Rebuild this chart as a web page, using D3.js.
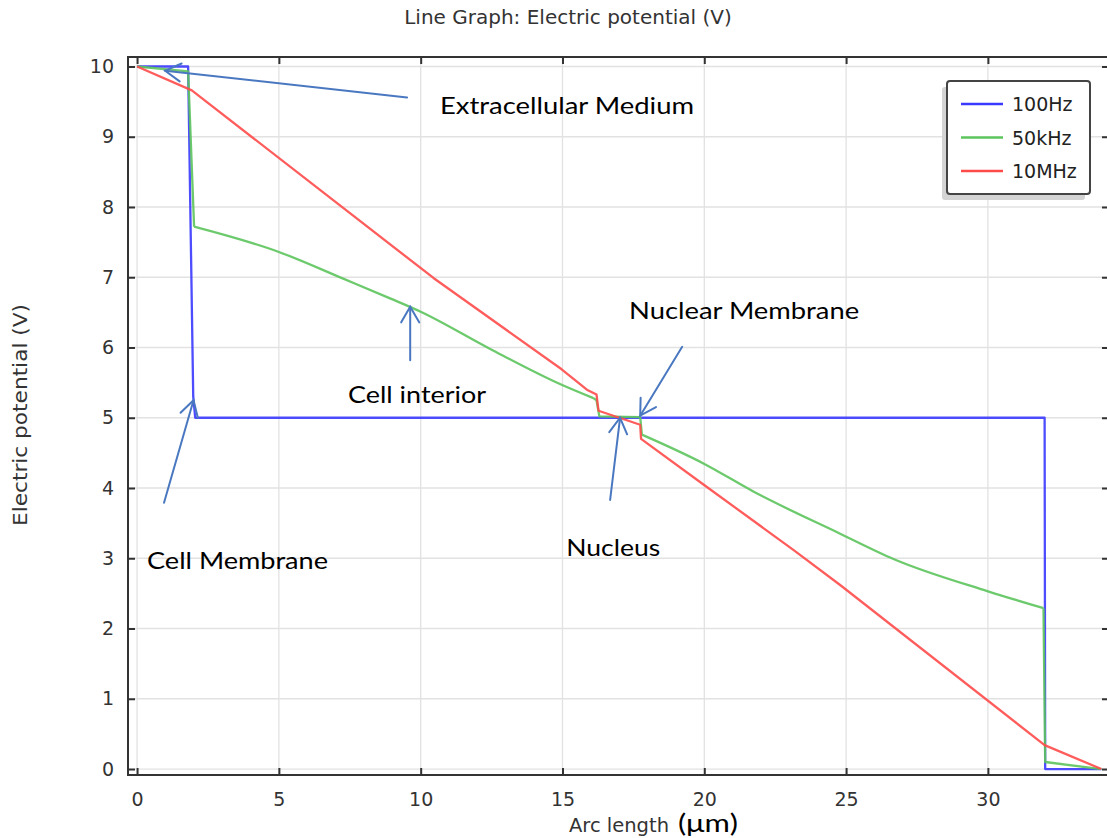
<!DOCTYPE html>
<html>
<head>
<meta charset="utf-8">
<script src="https://cdn.jsdelivr.net/npm/d3@7"></script>
<style>
  html, body { margin: 0; padding: 0; background: #fff; }
  svg { display: block; }
  .axis text { font-family: "DejaVu Sans", sans-serif; font-size: 19px; fill: #333; }
  .axis path { display: none; }
  .axis line { stroke: #333; stroke-width: 2; }
</style>
</head>
<body>
<svg id="chart" width="1107" height="838"></svg>
<script>
// Electric potential along the arc through the cell, for three frequencies
const seriesNames = ["100Hz", "50kHz", "10MHz"];
const seriesColors = ["#3a3aff", "#5cc45c", "#ff4a4a"];

const arc100Hz = [0, 1.8, 1.98, 2.05, 32.0, 32.02, 34];
const pot100Hz = [10, 10, 5.3, 5.0, 5.0, 0, 0];

const arc50kHz = [0, 1.8, 2.01, 5.0, 7.27, 8.92, 10.0, 12.45, 14.97, 16.09, 16.2, 16.3, 17.74, 17.8, 19.97, 21.73, 24.79, 26.67, 30.0, 31.96, 32.02, 34];
const pot50kHz = [10, 9.93, 7.72, 7.36, 6.98, 6.70, 6.51, 5.98, 5.47, 5.28, 5.25, 5.02, 5.01, 4.76, 4.35, 3.95, 3.35, 2.99, 2.53, 2.29, 0.10, 0];

const arc10MHz = [0, 1.93, 10.45, 14.97, 15.86, 16.2, 16.27, 17.74, 17.77, 19.97, 23.14, 24.79, 32.0, 34];
const pot10MHz = [10, 9.66, 6.99, 5.69, 5.40, 5.33, 5.10, 4.90, 4.70, 4.05, 3.12, 2.62, 0.34, 0];

// Index ranges inside each series that are drawn as smooth curves (the rest is straight)
const smoothRuns = [[], [[2, 9], [13, 19]], []];

const xTicks = [0, 5, 10, 15, 20, 25, 30];
const yTicks = [0, 1, 2, 3, 4, 5, 6, 7, 8, 9, 10];

// Callouts: text, arrow tip and tail in data units, label anchor in data units
const calloutText = ["Extracellular Medium", "Cell interior", "Cell Membrane", "Nucleus", "Nuclear Membrane"];
const calloutTip  = [[0.99, 9.94], [9.63, 6.58], [1.99, 5.25], [17.03, 5.0], [17.74, 5.03]];
const calloutTail = [[9.52, 9.56], [9.63, 5.82], [0.95, 3.79], [16.68, 3.83], [19.22, 6.01]];
const calloutLabelPos = [[10.68, 9.32], [7.44, 5.21], [0.35, 2.85], [15.13, 3.03], [17.35, 6.41]];
const calloutLabelWidth = [254, 138, 181, 94, 230];

const svg = d3.select("#chart");
const plot = { left: 128, right: 1109, top: 57, bottom: 775 };

const x = d3.scaleLinear().domain([-0.32, 34.27]).range([plot.left, plot.right]);
const y = d3.scaleLinear().domain([-0.085, 10.135]).range([plot.bottom, plot.top]);

// Grid
const grid = svg.append("g").attr("stroke", "#e2e2e2").attr("stroke-width", 1.3);
grid.selectAll("line.v").data(xTicks).join("line")
  .attr("x1", d => x(d)).attr("x2", d => x(d))
  .attr("y1", plot.top).attr("y2", plot.bottom);
grid.selectAll("line.h").data(yTicks).join("line")
  .attr("x1", plot.left).attr("x2", plot.right)
  .attr("y1", d => y(d)).attr("y2", d => y(d));

// Series
svg.append("clipPath").attr("id", "plotClip").append("rect")
  .attr("x", plot.left).attr("y", plot.top)
  .attr("width", plot.right - plot.left).attr("height", plot.bottom - plot.top);

const straight = d3.line().x(p => x(p[0])).y(p => y(p[1]));
const smooth = d3.line().curve(d3.curveMonotoneX).x(p => x(p[0])).y(p => y(p[1]));

// Build a path that is straight between breakpoints and smooth inside the given runs
function piecewisePath(pts, runs) {
  let parts = [];
  let i = 0;
  const sorted = runs.slice().sort((a, b) => a[0] - b[0]);
  for (const [s, e] of sorted) {
    if (s > i) parts.push(straight(pts.slice(i, s + 1)));
    parts.push(smooth(pts.slice(s, e + 1)));
    i = e;
  }
  if (i < pts.length - 1) parts.push(straight(pts.slice(i)));
  return parts.join("");
}

const series = [
  d3.zip(arc100Hz, pot100Hz),
  d3.zip(arc50kHz, pot50kHz),
  d3.zip(arc10MHz, pot10MHz)
];
svg.append("g").attr("clip-path", "url(#plotClip)")
  .selectAll("path").data(series).join("path")
  .attr("d", (d, i) => piecewisePath(d, smoothRuns[i]))
  .attr("fill", "none")
  .attr("stroke", (d, i) => seriesColors[i])
  .attr("stroke-width", 2.3)
  .attr("stroke-linejoin", "round")
  .attr("opacity", 0.9);

// Axes with inward ticks on all four sides
svg.append("g").attr("class", "axis")
  .attr("transform", `translate(0,${plot.bottom})`)
  .call(d3.axisBottom(x).tickValues(xTicks).tickSize(-7).tickSizeOuter(0).tickPadding(18));
svg.append("g").attr("class", "axis")
  .attr("transform", `translate(${plot.left},0)`)
  .call(d3.axisLeft(y).tickValues(yTicks).tickSize(-7).tickSizeOuter(0).tickPadding(14));
svg.append("g").attr("class", "axis")
  .attr("transform", `translate(0,${plot.top})`)
  .call(d3.axisTop(x).tickValues(xTicks).tickSize(-7).tickSizeOuter(0).tickFormat(""));
svg.append("g").attr("class", "axis")
  .attr("transform", `translate(${plot.right},0)`)
  .call(d3.axisRight(y).tickValues(yTicks).tickSize(-7).tickSizeOuter(0).tickFormat(""));

svg.append("rect")
  .attr("x", plot.left).attr("y", plot.top)
  .attr("width", plot.right - plot.left).attr("height", plot.bottom - plot.top)
  .attr("fill", "none").attr("stroke", "#333").attr("stroke-width", 2);

// Titles
svg.append("text")
  .attr("x", 568).attr("y", 24)
  .attr("text-anchor", "middle")
  .style("font-family", "DejaVu Sans, sans-serif").style("font-size", "20px").style("fill", "#333")
  .text("Line Graph: Electric potential (V)");

svg.append("text")
  .attr("transform", "translate(27,415) rotate(-90)")
  .attr("text-anchor", "middle")
  .attr("textLength", 222)
  .attr("lengthAdjust", "spacingAndGlyphs")
  .style("font-family", "DejaVu Sans, sans-serif").style("font-size", "20px").style("fill", "#333")
  .text("Electric potential (V)");

svg.append("text").attr("x", 569).attr("y", 832)
  .style("font-family", "DejaVu Sans, sans-serif").style("font-size", "19.5px").style("fill", "#333")
  .text("Arc length");
svg.append("text").attr("x", 678).attr("y", 832)
  .attr("textLength", 60)
  .attr("lengthAdjust", "spacingAndGlyphs")
  .style("font-family", "Lato, sans-serif").style("font-size", "25px").style("fill", "#000")
  .text("(μm)");

// Legend
const legend = svg.append("g");
legend.append("rect").attr("x", 942).attr("y", 87).attr("width", 143).attr("height", 113)
  .attr("rx", 3).attr("fill", "#d4d4d4");
legend.append("rect").attr("x", 947).attr("y", 81).attr("width", 143).attr("height", 113)
  .attr("rx", 3).attr("fill", "#fff").attr("stroke", "#444").attr("stroke-width", 2);
const legendRows = legend.selectAll("g.row").data(seriesNames).join("g")
  .attr("transform", (d, i) => `translate(0,${104 + i * 33.5})`);
legendRows.append("line").attr("x1", 961).attr("x2", 1003)
  .attr("stroke", (d, i) => seriesColors[i]).attr("stroke-width", 2.5);
legendRows.append("text").attr("x", 1012).attr("y", 7)
  .style("font-family", "DejaVu Sans, sans-serif").style("font-size", "19px").style("fill", "#222")
  .text(d => d);

// Callout arrows
const arrowColor = "#4a78c0";
const callouts = svg.append("g").attr("stroke", arrowColor).attr("stroke-width", 2).attr("fill", "none")
  .attr("stroke-linecap", "round");
calloutTip.forEach((tip, i) => {
  const tx = x(tip[0]), ty = y(tip[1]);
  const sx = x(calloutTail[i][0]), sy = y(calloutTail[i][1]);
  callouts.append("line").attr("x1", sx).attr("y1", sy).attr("x2", tx).attr("y2", ty);
  const ang = Math.atan2(sy - ty, sx - tx);
  const head = 18, spread = Math.PI / 6;
  const p = [ang - spread, ang + spread].map(a => [tx + head * Math.cos(a), ty + head * Math.sin(a)]);
  callouts.append("path").attr("d", `M${p[0][0]},${p[0][1]}L${tx},${ty}L${p[1][0]},${p[1][1]}`);
});

svg.append("g").selectAll("text").data(calloutText).join("text")
  .attr("x", (d, i) => x(calloutLabelPos[i][0]))
  .attr("y", (d, i) => y(calloutLabelPos[i][1]))
  .attr("textLength", (d, i) => calloutLabelWidth[i])
  .attr("lengthAdjust", "spacingAndGlyphs")
  .style("font-family", "Lato, sans-serif").style("font-size", "24px").style("fill", "#000")
  .text(d => d);
</script>
</body>
</html>
